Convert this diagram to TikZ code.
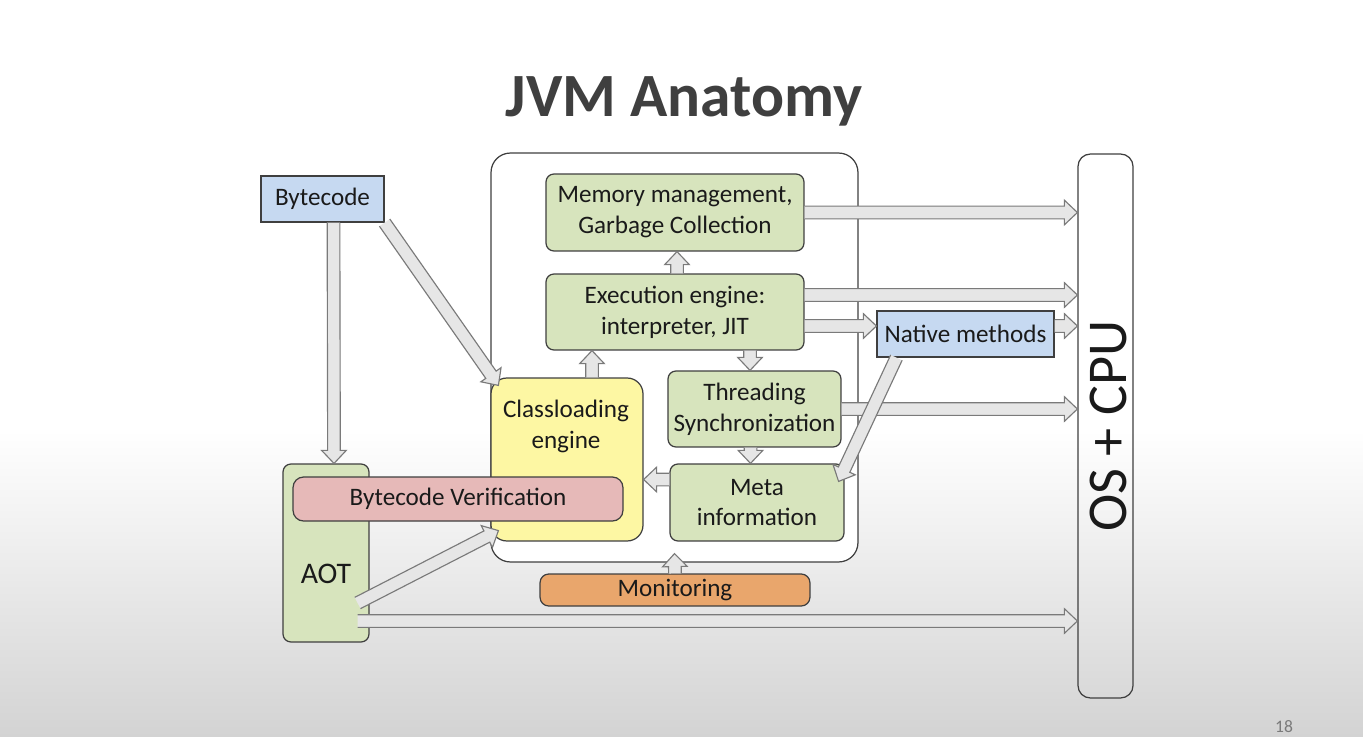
\documentclass[tikz,border=0pt]{standalone}
\usepackage{fontspec}
\setmainfont{Carlito}
\usepackage{xcolor}
\usetikzlibrary{calc}

\definecolor{boxline}{HTML}{3F3F3F}
\definecolor{txt}{HTML}{1A1A1A}
\definecolor{bluefill}{HTML}{C6D9F1}
\definecolor{greenfill}{HTML}{D7E4BD}
\definecolor{yellowfill}{HTML}{FDF7A3}
\definecolor{pinkfill}{HTML}{E6B9B8}
\definecolor{orangefill}{HTML}{E9A66C}
\definecolor{arrowfill}{HTML}{E6E6E6}
\definecolor{arrowline}{HTML}{7A7A7A}
\definecolor{slidegray}{HTML}{D3D3D3}

\newcommand{\boxfont}{\fontsize{14.3}{17.6}\selectfont}

% hollow block arrow from #1 to #2, open at the tail
\newcommand{\blockarrow}[2]{%
  \coordinate (ba-a) at (#1);
  \coordinate (ba-b) at (#2);
  \coordinate (ba-c) at ($(ba-b)!7.4pt!(ba-a)$);
  \fill[arrowfill] ($(ba-a)!3.6pt!90:(ba-b)$) -- ($(ba-c)!3.6pt!90:(ba-b)$) -- ($(ba-c)!7pt!90:(ba-b)$) -- (ba-b)
    -- ($(ba-c)!7pt!-90:(ba-b)$) -- ($(ba-c)!3.6pt!-90:(ba-b)$) -- ($(ba-a)!3.6pt!-90:(ba-b)$) -- cycle;
  \draw[arrowline, line width=0.65pt, line join=miter] ($(ba-a)!3.6pt!90:(ba-b)$) -- ($(ba-c)!3.6pt!90:(ba-b)$) -- ($(ba-c)!7pt!90:(ba-b)$) -- (ba-b)
    -- ($(ba-c)!7pt!-90:(ba-b)$) -- ($(ba-c)!3.6pt!-90:(ba-b)$) -- ($(ba-a)!3.6pt!-90:(ba-b)$);
}

\begin{document}
\begin{tikzpicture} [
       x=0.02cm, y=-0.02cm,
       box/.style={draw=boxline, line width=0.7pt, rounded corners=4.5pt, text=txt,
               font=\boxfont, align=center, inner sep=0pt},
       plainbox/.style={box, sharp corners, fill=bluefill},
       greenbox/.style={box, fill=greenfill},
       texte/.style={text=txt, font=\boxfont, align=center, inner sep=0pt},
       ]
       \useasboundingbox (0,0) rectangle (1363,737);
       \fill[white] (0,0) rectangle (1363,737);
       \shade[top color=white, bottom color=slidegray] (0,430) rectangle (1363,737);

       \node (title) [anchor=base, text=boxline, font=\fontsize{35}{40}\selectfont\bfseries] at (684,116) {JVM Anatomy};

       % the JVM itself
       \node (jvm) [box, fill=white, rounded corners=11pt, minimum width=7.34cm, minimum height=8.18cm] at (674.5,357.5) {};
       \node (mem) [greenbox, minimum width=5.16cm, minimum height=1.54cm] at (675,212.5) {Memory management,\\Garbage Collection};
       \node (exe) [greenbox, minimum width=5.16cm, minimum height=1.52cm] at (675,312) {Execution engine:\\interpreter, JIT};
       \node (classload) [box, fill=yellowfill, rounded corners=9pt, minimum width=3.04cm, minimum height=3.26cm] at (567,459.5) {};
       \node (threading) [greenbox, minimum width=3.46cm, minimum height=1.52cm] at (754.5,409) {Threading\\Synchronization};
       \node (meta) [greenbox, minimum width=3.48cm, minimum height=1.54cm] at (757,502.5) {Meta\\information};

       \node (native) [plainbox, minimum width=3.54cm, minimum height=0.92cm] at (965.5,334) {Native methods};
       \node (os) [box, fill=none, rounded corners=7pt, minimum width=1.1cm, minimum height=10.88cm] at (1105.5,426) {};
       \node (os-text) [texte, rotate=90, font=\fontsize{32}{36}\selectfont] at (1108,426) {OS + CPU};

       \node (bytecode) [plainbox, minimum width=2.46cm, minimum height=0.92cm] at (322.5,199) {Bytecode};
       \node (aot) [greenbox, minimum width=1.72cm, minimum height=3.56cm] at (326,553) {};
       \node (verif) [box, fill=pinkfill, rounded corners=6pt, minimum width=6.6cm, minimum height=0.88cm] at (458,499) {Bytecode Verification};
       \node (aot-text) [texte, font=\fontsize{17}{20}\selectfont] at (326,574) {AOT};
       \node (classload-text) [texte] at (566,426) {Classloading\\engine};
       \node (monitor) [box, fill=orangefill, rounded corners=5pt, minimum width=5.4cm, minimum height=0.64cm] at (675,590) {Monitoring};

       \node (page) [anchor=base, text=arrowline, font=\fontsize{10}{12}\selectfont] at (1284,732) {18};

       % anchor points of the arrows
       \coordinate (cl-up) at ($(classload.north)+(25,0)$);
       \coordinate (exe-up) at ($(exe.north)+(2,0)$);
       \coordinate (exe-os) at ($(exe.east)+(0,-17)$);
       \coordinate (exe-nat) at ($(exe.east)+(0,14)$);
       \coordinate (nat-os) at ($(native.east)+(0,-8)$);
       \coordinate (exe-down) at ($(exe.south)+(75,0)$);
       \coordinate (thr-down) at ($(threading.south)+(-4,0)$);
       \coordinate (meta-cl) at ($(meta.west)+(0,-23)$);
       \coordinate (aot-cl) at ($(aot.east)+(-12,50)$);
       \coordinate (aot-os) at ($(aot.east)+(-12,68)$);

       \blockarrow{bytecode.south east}{$(classload.north west)+(8,8)$}
       \blockarrow{$(bytecode.south)+(11,0)$}{$(aot.north)+(8,0)$}
       \blockarrow{cl-up}{cl-up |- exe.south}
       \blockarrow{exe-up}{exe-up |- mem.south}
       \blockarrow{mem.east}{os.west |- mem.east}
       \blockarrow{exe-os}{os.west |- exe-os}
       \blockarrow{exe-nat}{native.west |- exe-nat}
       \blockarrow{nat-os}{os.west |- nat-os}
       \blockarrow{exe-down}{exe-down |- threading.north}
       \blockarrow{thr-down}{thr-down |- meta.north}
       \blockarrow{threading.east}{os.west |- threading.east}
       \blockarrow{$(native.south west)+(20,0)$}{$(meta.north east)+(-6,18)$}
       \blockarrow{meta-cl}{classload.east |- meta-cl}
       \blockarrow{monitor.north}{$(jvm.south)+(0,-9)$}
       \blockarrow{aot-cl}{$(classload.south west)+(8,-11)$}
       \blockarrow{aot-os}{os.west |- aot-os}
\end{tikzpicture}
\end{document}
